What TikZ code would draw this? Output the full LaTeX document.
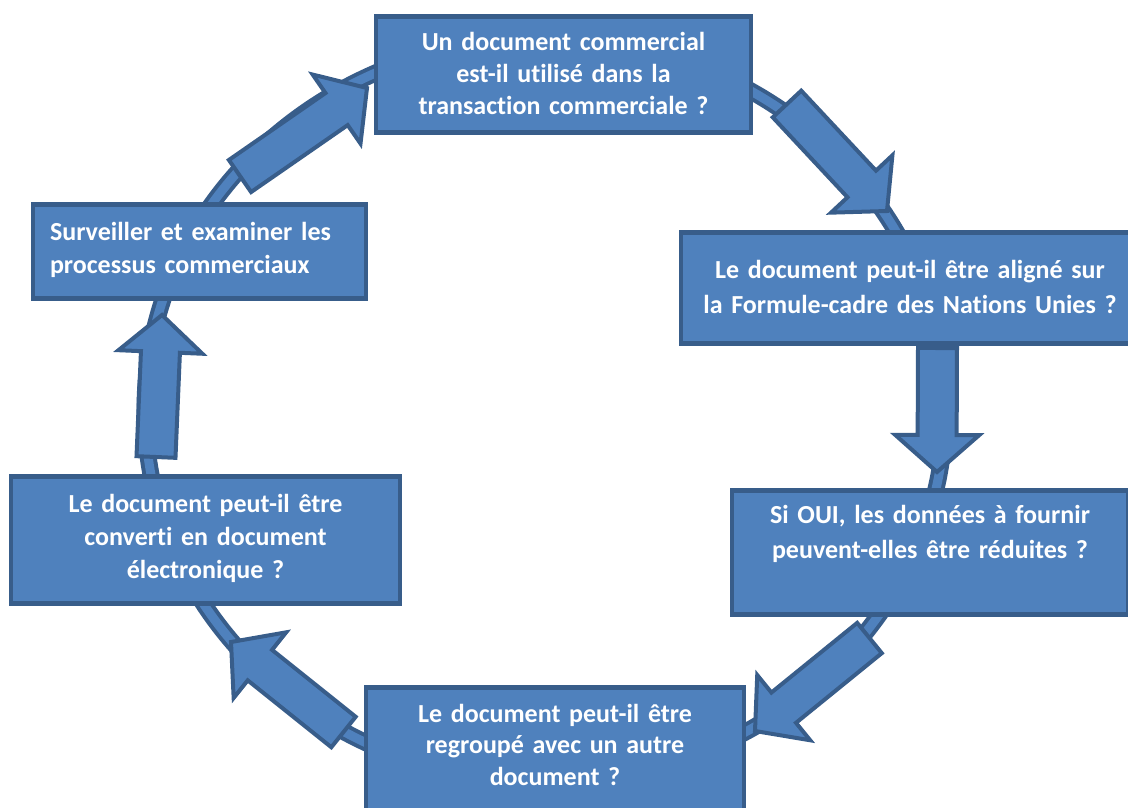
\documentclass[tikz,border=0pt]{standalone}
\usepackage{fontspec}
\setmainfont{Carlito}[Ligatures=CommonOff]
\usetikzlibrary{calc}
\definecolor{boxfill}{HTML}{4F81BD}
\definecolor{boxline}{HTML}{385D8A}
\begin{document}
\begin{tikzpicture}[x=1pt,y=-1pt,
  stepbox/.style={draw=boxline,fill=boxfill,line width=4.5pt,text=white,
    font=\bfseries,align=center,inner sep=0pt,anchor=north},
  flowarrow/.style={draw=boxline,fill=boxfill,line width=4pt,line join=miter}]
\useasboundingbox (0,0) rectangle (1128,807);

% Ring behind the cycle
\draw[draw=boxline,line width=4pt,double=boxfill,double distance=9pt]
  (545,410) ellipse [x radius=400,y radius=372];

% Arrow ends
\coordinate (t1) at (240,176);   \coordinate (h1) at (367,88);
\coordinate (t2) at (787,104);   \coordinate (h2) at (887,211);
\coordinate (t3) at (937.5,348); \coordinate (h3) at (937,472);
\coordinate (t4) at (869.5,638); \coordinate (h4) at (755,731);
\coordinate (t5) at (343.5,732); \coordinate (h5) at (231,642);
\coordinate (t6) at (156,457);   \coordinate (h6) at (162,315);

% Block arrows
\foreach \i in {1,...,6} {
  \path ($(h\i)!37pt!(t\i)$) coordinate (n\i);
  \draw[flowarrow] ($(t\i)!19.5pt!90:(h\i)$) -- ($(n\i)!19.5pt!-90:(t\i)$)
    -- ($(n\i)!42pt!-90:(t\i)$) -- (h\i) -- ($(n\i)!42pt!90:(t\i)$)
    -- ($(n\i)!19.5pt!90:(t\i)$) -- ($(t\i)!19.5pt!-90:(h\i)$) -- cycle;
}

% Steps
\node[stepbox,font=\bfseries\fontsize{26}{32}\selectfont,text width=375pt,
  text height=34pt,text depth=82pt] (q1) at (563.5,14)
  {Un document commercial\\est-il utilisé dans la\\transaction commerciale ?};
\node[stepbox,font=\bfseries\fontsize{26}{35}\selectfont,text width=458pt,
  text height=46pt,text depth=65pt] (q2) at (910,230)
  {Le document peut-il être aligné sur\\la Formule-cadre des Nations Unies ?};
\node[stepbox,font=\bfseries\fontsize{26}{35}\selectfont,text width=396pt,
  text height=33pt,text depth=91pt] (q3) at (930,488)
  {Si OUI, les données à fournir\\peuvent-elles être réduites ?};
\node[stepbox,font=\bfseries\fontsize{26}{31.5}\selectfont,text width=378pt,
  text height=35pt,text depth=105pt] (q4) at (555,685)
  {Le document peut-il être\\regroupé avec un autre\\document ?};
\node[stepbox,font=\bfseries\fontsize{26}{33}\selectfont,text width=389pt,
  text height=36pt,text depth=91pt] (q5) at (205.5,474)
  {Le document peut-il être\\converti en document\\électronique ?};
\node[stepbox,font=\bfseries\fontsize{26}{33}\selectfont,align=left,
  inner xsep=17pt,text width=299pt,text height=36pt,text depth=58pt] (q6) at (199.5,202)
  {Surveiller et examiner les\\processus commerciaux};
\end{tikzpicture}
\end{document}
